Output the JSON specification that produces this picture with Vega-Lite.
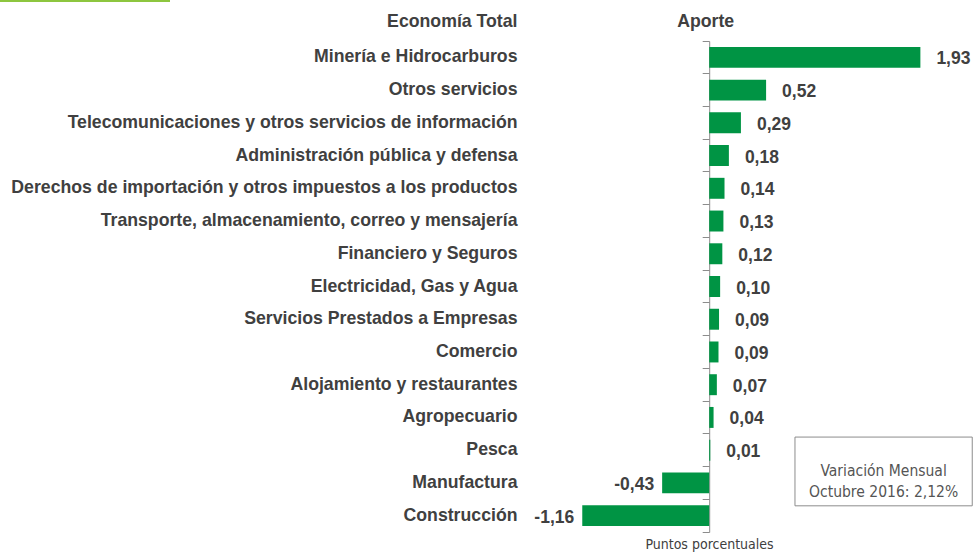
{
  "$schema": "https://vega.github.io/schema/vega-lite/v6.json",
  "autosize": "none",
  "padding": {"left": 520, "top": 41, "right": 0, "bottom": 20},
  "width": 454,
  "height": 491,
  "background": "white",
  "config": {"view": {"stroke": null}, "font": "Liberation Sans"},
  "datasets": {
    "aporte": [
      {"sector": "Minería e Hidrocarburos", "valor": 1.93, "label": "1,93"},
      {"sector": "Otros servicios", "valor": 0.52, "label": "0,52"},
      {"sector": "Telecomunicaciones y otros servicios de información", "valor": 0.29, "label": "0,29"},
      {"sector": "Administración pública y defensa", "valor": 0.18, "label": "0,18"},
      {"sector": "Derechos de importación y otros impuestos a los productos", "valor": 0.14, "label": "0,14"},
      {"sector": "Transporte, almacenamiento, correo y mensajería", "valor": 0.13, "label": "0,13"},
      {"sector": "Financiero y Seguros", "valor": 0.12, "label": "0,12"},
      {"sector": "Electricidad, Gas y Agua", "valor": 0.10, "label": "0,10"},
      {"sector": "Servicios Prestados a Empresas", "valor": 0.09, "label": "0,09"},
      {"sector": "Comercio", "valor": 0.085, "label": "0,09"},
      {"sector": "Alojamiento y restaurantes", "valor": 0.07, "label": "0,07"},
      {"sector": "Agropecuario", "valor": 0.04, "label": "0,04"},
      {"sector": "Pesca", "valor": 0.01, "label": "0,01"},
      {"sector": "Manufactura", "valor": -0.43, "label": "-0,43"},
      {"sector": "Construcción", "valor": -1.16, "label": "-1,16"}
    ],
    "nota": [
      {"x": 0.784, "x2": 2.404, "y": 12.1, "y2": 14.2, "ym": 13.15, "xm": 1.594, "g": 1, "texto": ["Variación Mensual", "Octubre 2016: 2,12%"]}
    ]
  },
  "layer": [
    {
      "data": {"name": "aporte"},
      "mark": {"type": "bar", "color": "#009444", "height": {"band": 0.64}},
      "encoding": {
        "y": {
          "field": "sector", "type": "nominal", "sort": null,
          "scale": {"type": "band", "paddingInner": 0, "paddingOuter": 0},
          "axis": {
            "orient": "left", "domain": false, "ticks": false, "grid": false,
            "labelPadding": 3, "labelLimit": 700,
            "labelFont": "Liberation Sans", "labelFontWeight": "bold", "labelFontSize": 17.7,
            "labelColor": "#404040",
            "title": "Economía Total", "titleAngle": 0, "titleAlign": "right",
            "titleBaseline": "middle", "titleX": -3, "titleY": -20,
            "titleFont": "Liberation Sans", "titleFontWeight": "bold", "titleFontSize": 17.7,
            "titleColor": "#404040"
          }
        },
        "x": {
          "field": "valor", "type": "quantitative",
          "scale": {"domain": [-1.729, 2.42], "nice": false, "zero": false},
          "axis": {
            "orient": "bottom", "domain": false, "ticks": false, "labels": false, "grid": false,
            "title": "Puntos porcentuales", "titleX": 189, "titleY": 12,
            "titleAlign": "center", "titleBaseline": "middle",
            "titleFont": "DejaVu Sans Condensed", "titleFontWeight": "normal", "titleFontSize": 14,
            "titleColor": "#404040"
          }
        }
      }
    },
    {
      "data": {"name": "aporte"},
      "transform": [{"filter": "datum.valor >= 0"}],
      "mark": {"type": "text", "align": "left", "baseline": "middle", "dx": 16, "dy": 2,
               "font": "Liberation Sans", "fontWeight": "bold", "fontSize": 17.5, "color": "#404040"},
      "encoding": {
        "y": {
          "field": "sector", "type": "nominal", "sort": null,
          "scale": {"type": "band", "paddingInner": 0, "paddingOuter": 0,
            "domain": ["Minería e Hidrocarburos", "Otros servicios", "Telecomunicaciones y otros servicios de información", "Administración pública y defensa", "Derechos de importación y otros impuestos a los productos", "Transporte, almacenamiento, correo y mensajería", "Financiero y Seguros", "Electricidad, Gas y Agua", "Servicios Prestados a Empresas", "Comercio", "Alojamiento y restaurantes", "Agropecuario", "Pesca", "Manufactura", "Construcción"]},
          "axis": {
            "orient": "left", "offset": -189.2, "domain": true, "domainColor": "#8c8c8c", "domainWidth": 1,
            "ticks": true, "tickColor": "#8c8c8c", "tickOpacity": 1, "tickSize": 7, "tickWidth": 1,
            "bandPosition": 1, "tickExtra": true, "labels": false, "grid": false,
            "title": "Aporte", "titleAngle": 0, "titleAlign": "center", "titleBaseline": "middle",
            "titleX": -4, "titleY": -20,
            "titleFont": "Liberation Sans", "titleFontWeight": "bold", "titleFontSize": 17.7,
            "titleColor": "#404040"
          }
        },
        "x": {"field": "valor", "type": "quantitative"},
        "text": {"field": "label"}
      }
    },
    {
      "data": {"name": "aporte"},
      "transform": [{"filter": "datum.valor < 0"}],
      "mark": {"type": "text", "align": "right", "baseline": "middle", "dx": -8, "dy": 2,
               "font": "Liberation Sans", "fontWeight": "bold", "fontSize": 17.5, "color": "#404040"},
      "encoding": {
        "y": {
          "field": "sector", "type": "nominal", "sort": null,
          "scale": {"type": "band", "paddingInner": 0, "paddingOuter": 0,
            "domain": ["Minería e Hidrocarburos", "Otros servicios", "Telecomunicaciones y otros servicios de información", "Administración pública y defensa", "Derechos de importación y otros impuestos a los productos", "Transporte, almacenamiento, correo y mensajería", "Financiero y Seguros", "Electricidad, Gas y Agua", "Servicios Prestados a Empresas", "Comercio", "Alojamiento y restaurantes", "Agropecuario", "Pesca", "Manufactura", "Construcción"]},
          "axis": null
        },
        "x": {"field": "valor", "type": "quantitative"},
        "text": {"field": "label"}
      }
    },
    {
      "data": {"name": "nota"},
      "mark": {"type": "rect", "fill": "white", "stroke": "#8c8c8c", "strokeWidth": 1},
      "encoding": {
        "x": {"field": "x", "type": "quantitative"},
        "x2": {"field": "x2"},
        "y": {"field": "y", "type": "quantitative", "scale": {"domain": [0, 15], "reverse": true, "nice": false, "zero": false}, "axis": null},
        "y2": {"field": "y2"}
      }
    },
    {
      "data": {"name": "nota"},
      "mark": {"type": "text", "align": "center", "baseline": "middle", "lineHeight": 21,
               "font": "DejaVu Sans Condensed", "fontSize": 15.5, "color": "#555555"},
      "encoding": {
        "x": {"field": "xm", "type": "quantitative"},
        "y": {"field": "ym", "type": "quantitative", "scale": {"domain": [0, 15], "reverse": true, "nice": false, "zero": false}, "axis": null},
        "text": {"field": "texto"}
      }
    },
    {
      "data": {"name": "nota"},
      "mark": {"type": "rule", "opacity": 0},
      "encoding": {
        "x": {"field": "xm", "type": "quantitative"},
        "color": {
          "field": "g", "type": "quantitative",
          "scale": {"range": ["#8dc63f", "#8dc63f"]},
          "legend": {
            "orient": "none", "legendX": -520, "legendY": -41, "direction": "horizontal",
            "gradientLength": 170, "gradientThickness": 2, "gradientStrokeWidth": 0,
            "labels": false, "values": [], "title": null, "padding": 0, "offset": 0
          }
        }
      }
    }
  ],
  "resolve": {"scale": {"y": "independent"}, "axis": {"y": "independent"}}
}
